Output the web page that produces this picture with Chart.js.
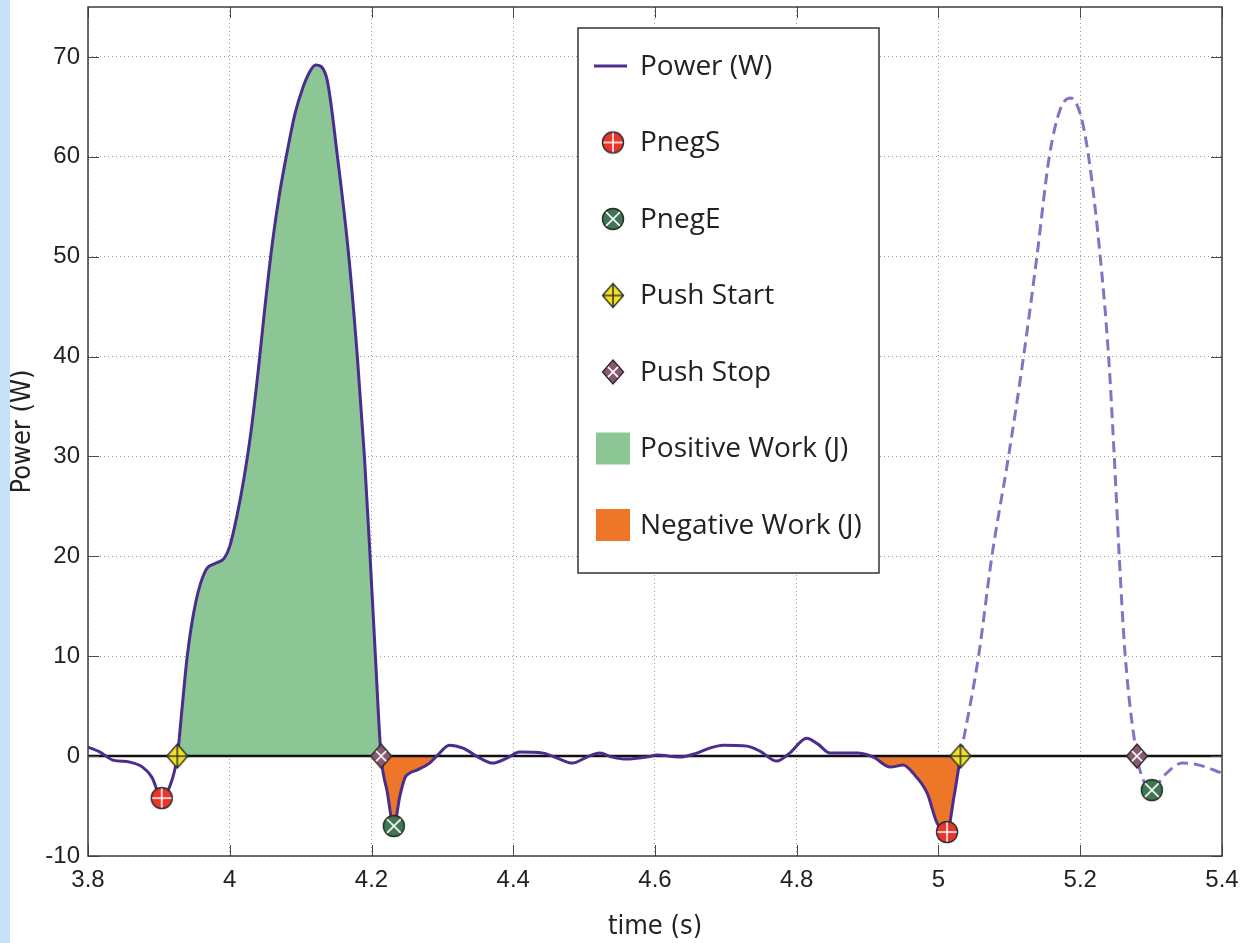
<!DOCTYPE html>
<html>
<head>
<meta charset="utf-8">
<title>Power (W)</title>
<script src="https://cdn.jsdelivr.net/npm/chart.js@4.4.0/dist/chart.umd.min.js"></script>
<style>
  html, body { margin: 0; padding: 0; background: #fff; }
  #wrap { position: relative; width: 1241px; height: 943px; }
</style>
</head>
<body>
<div id="wrap"><canvas id="powerChart" width="1241" height="943"></canvas></div>
<script>
// solid part of the power trace (up to the second push start)
const times = [3.800, 3.817, 3.835, 3.859, 3.877, 3.890, 3.904, 3.915, 3.926, 3.933,
  3.940, 3.952, 3.966, 3.980, 3.992, 4.000, 4.010, 4.020, 4.030, 4.040,
  4.050, 4.060, 4.070, 4.081, 4.092, 4.103, 4.112, 4.121, 4.136, 4.152,
  4.168, 4.180, 4.190, 4.198, 4.2055,
  4.2135, 4.222, 4.2315, 4.240, 4.247, 4.254, 4.264, 4.282, 4.292, 4.310,
  4.329, 4.353, 4.371, 4.391, 4.409, 4.442, 4.462, 4.483, 4.504, 4.522,
  4.540, 4.560, 4.588, 4.603, 4.635, 4.659, 4.677, 4.696, 4.730, 4.748,
  4.772, 4.790, 4.814, 4.830, 4.847, 4.885, 4.908, 4.932, 4.950, 4.964,
  4.984, 4.998, 5.012, 5.022, 5.031];
const power = [0.9, 0.4, -0.4, -0.6, -1.1, -2.1, -4.2, -3.1, 0, 5,
  10, 15.4, 18.6, 19.3, 19.8, 21.0, 24.0, 27.8, 32.5, 38.5,
  45.2, 51.3, 56.2, 60.5, 64.3, 66.9, 68.4, 69.2, 68.1, 60,
  50, 40, 30, 20, 10,
  0, -3.5, -7.0, -4.0, -2.2, -1.7, -1.4, -0.7, 0, 1.1,
  0.8, -0.2, -0.7, -0.2, 0.4, 0.3, -0.2, -0.7, -0.1, 0.3,
  -0.1, -0.3, -0.1, 0.1, -0.1, 0.3, 0.8, 1.1, 1.0, 0.5,
  -0.5, 0.3, 1.8, 1.2, 0.3, 0.3, -0.1, -1.1, -0.9, -1.7,
  -3.7, -6.7, -7.6, -4.0, 0];

// dashed part (next push)
const dashTimes = [5.031, 5.0565, 5.0753, 5.0988, 5.120, 5.1388, 5.1563, 5.172, 5.186, 5.200,
  5.2118, 5.2282, 5.240, 5.248, 5.255, 5.2635, 5.280, 5.289, 5.301, 5.319,
  5.344, 5.368, 5.400];
const dashPower = [0, 10, 20, 30, 40, 50, 60, 64.8, 65.9, 64.3,
  60, 50, 40, 30, 20, 10, 0, -2.4, -3.4, -1.9,
  -0.7, -0.9, -1.7];

// event markers
const pnegSTimes = [3.904, 5.012];
const pnegSValues = [-4.2, -7.6];
const pnegETimes = [4.2315, 5.301];
const pnegEValues = [-7.0, -3.4];
const pushStartTimes = [3.926, 5.031];
const pushStartValues = [0, 0];
const pushStopTimes = [4.2135, 5.280];
const pushStopValues = [0, 0];

const xTicks = [3.8, 4, 4.2, 4.4, 4.6, 4.8, 5, 5.2, 5.4];
const yTicks = [-10, 0, 10, 20, 30, 40, 50, 60, 70];

const purple = '#4a2d8f';
const lightPurple = '#8a70c4';
const green = '#8cc695';
const orange = '#ee7629';

function pts(xs, ys) {
    return xs.map((x, i) => ({ x: x, y: ys[i] }));
}

// marker images
function makeMarker(shape, fill, cross, crossColor) {
    const c = document.createElement('canvas');
    c.width = 26; c.height = 28;
    const g = c.getContext('2d');
    const cx = 13, cy = 14;
    const outline = () => {
        g.beginPath();
        if (shape === 'circle') {
            g.arc(cx, cy, 10.5, 0, Math.PI * 2);
        } else {
            g.moveTo(cx, cy - 12); g.lineTo(cx + 10.5, cy); g.lineTo(cx, cy + 12); g.lineTo(cx - 10.5, cy); g.closePath();
        }
    };
    outline();
    g.fillStyle = fill;
    g.fill();
    g.save();
    g.clip();
    g.strokeStyle = crossColor;
    g.lineWidth = 1.6;
    g.beginPath();
    if (cross === 'plus') {
        g.moveTo(cx - 12, cy); g.lineTo(cx + 12, cy);
        g.moveTo(cx, cy - 12); g.lineTo(cx, cy + 12);
    } else {
        const d = shape === 'circle' ? 7.4 : 5.6;
        g.moveTo(cx - d, cy - d); g.lineTo(cx + d, cy + d);
        g.moveTo(cx + d, cy - d); g.lineTo(cx - d, cy + d);
    }
    g.stroke();
    g.restore();
    outline();
    g.strokeStyle = '#2a2a2a';
    g.lineWidth = 1.4;
    g.stroke();
    return c;
}

const pnegSImg = makeMarker('circle', '#e8362c', 'plus', '#ffffff');
const pnegEImg = makeMarker('circle', '#3f7653', 'x', '#ffffff');
const pushStartImg = makeMarker('diamond', '#f2e11b', 'plus', '#3a3a3a');
const pushStopImg = makeMarker('diamond', '#8a586f', 'x', '#ffffff');

// fill areas built from the trace
const solid = pts(times, power);
const positiveWork = solid.filter(p => p.x >= pushStartTimes[0] && p.x <= pushStopTimes[0]);

const stopIdx = times.indexOf(pushStopTimes[0]);
let endIdx = stopIdx + 1;
while (endIdx < power.length && power[endIdx] < 0) endIdx++;
const negWork1 = solid.slice(stopIdx, endIdx + 1).map(p => ({ x: p.x, y: Math.min(p.y, 0) }));

const startIdx = times.indexOf(pushStartTimes[1]);
let begIdx = startIdx - 1;
while (begIdx > 0 && power[begIdx] <= 0) begIdx--;
const negWork2 = solid.slice(begIdx, startIdx + 1).map(p => ({ x: p.x, y: Math.min(p.y, 0) }));

const legendItems = [
    { label: 'Power (W)', kind: 'line' },
    { label: 'PnegS', kind: 'img', img: pnegSImg },
    { label: 'PnegE', kind: 'img', img: pnegEImg },
    { label: 'Push Start', kind: 'img', img: pushStartImg },
    { label: 'Push Stop', kind: 'img', img: pushStopImg },
    { label: 'Positive Work (J)', kind: 'box', color: green },
    { label: 'Negative Work (J)', kind: 'box', color: orange }
];

const framePlugin = {
    id: 'framePlugin',
    beforeDraw(chart) {
        const ctx = chart.ctx;
        ctx.save();
        ctx.fillStyle = '#ffffff';
        ctx.fillRect(0, 0, chart.width, chart.height);
        ctx.fillStyle = '#c4e3f6';
        ctx.fillRect(0, 0, 10, chart.height);
        ctx.restore();
    },
    afterDraw(chart) {
        const ctx = chart.ctx;
        const a = chart.chartArea;
        const xs = chart.scales.x, ys = chart.scales.y;
        ctx.save();
        // inside ticks
        ctx.strokeStyle = '#4a4a4a';
        ctx.lineWidth = 1;
        ctx.beginPath();
        xTicks.forEach(v => {
            const px = Math.round(xs.getPixelForValue(v)) + 0.5;
            ctx.moveTo(px, a.bottom); ctx.lineTo(px, a.bottom - 11);
            ctx.moveTo(px, a.top); ctx.lineTo(px, a.top + 11);
        });
        yTicks.forEach(v => {
            const py = Math.round(ys.getPixelForValue(v)) + 0.5;
            ctx.moveTo(a.left, py); ctx.lineTo(a.left + 11, py);
            ctx.moveTo(a.right, py); ctx.lineTo(a.right - 11, py);
        });
        ctx.stroke();
        // box
        ctx.strokeStyle = '#3c3c3c';
        ctx.lineWidth = 1.5;
        ctx.strokeRect(a.left, a.top, a.right - a.left, a.bottom - a.top);

        // legend
        const lx = 578, ly = 28, lw = 301, lh = 545;
        ctx.fillStyle = '#ffffff';
        ctx.fillRect(lx, ly, lw, lh);
        ctx.strokeStyle = '#333333';
        ctx.lineWidth = 1.5;
        ctx.strokeRect(lx, ly, lw, lh);
        ctx.font = '28px "Open Sans", "Noto Sans", sans-serif';
        ctx.textBaseline = 'middle';
        ctx.textAlign = 'left';
        legendItems.forEach((it, i) => {
            const cy = 66 + i * 76.5;
            const cx = 613;
            if (it.kind === 'line') {
                ctx.strokeStyle = purple;
                ctx.lineWidth = 3;
                ctx.beginPath();
                ctx.moveTo(594, cy); ctx.lineTo(627, cy);
                ctx.stroke();
            } else if (it.kind === 'img') {
                ctx.drawImage(it.img, cx - it.img.width / 2, cy - it.img.height / 2);
            } else {
                ctx.fillStyle = it.color;
                ctx.fillRect(596, cy - 16, 34, 32);
            }
            ctx.fillStyle = '#222222';
            ctx.fillText(it.label, 640, cy + 1);
        });
        ctx.restore();
    }
};

const ctx = document.getElementById('powerChart').getContext('2d');
new Chart(ctx, {
    type: 'line',
    data: {
        datasets: [
            { label: 'PnegS', data: pts(pnegSTimes, pnegSValues), showLine: false, pointStyle: pnegSImg, order: 0 },
            { label: 'PnegE', data: pts(pnegETimes, pnegEValues), showLine: false, pointStyle: pnegEImg, order: 0 },
            { label: 'Push Start', data: pts(pushStartTimes, pushStartValues), showLine: false, pointStyle: pushStartImg, order: 0 },
            { label: 'Push Stop', data: pts(pushStopTimes, pushStopValues), showLine: false, pointStyle: pushStopImg, order: 0 },
            {
                label: 'Power (W)', data: solid, borderColor: purple, borderWidth: 3,
                pointRadius: 0, cubicInterpolationMode: 'monotone', fill: false, order: 1
            },
            {
                label: 'Power next', data: pts(dashTimes, dashPower), borderColor: lightPurple, borderWidth: 3,
                borderDash: [11, 6], pointRadius: 0, cubicInterpolationMode: 'monotone', fill: false, order: 1
            },
            {
                label: 'zero', data: [{ x: 3.8, y: 0 }, { x: 5.4, y: 0 }], borderColor: '#111111',
                borderWidth: 2.5, pointRadius: 0, fill: false, order: 2
            },
            {
                label: 'Positive Work (J)', data: positiveWork, borderWidth: 0, borderColor: 'rgba(0,0,0,0)',
                backgroundColor: green, pointRadius: 0, cubicInterpolationMode: 'monotone', fill: 'origin', order: 3
            },
            {
                label: 'Negative Work (J)', data: negWork1, borderWidth: 0, borderColor: 'rgba(0,0,0,0)',
                backgroundColor: orange, pointRadius: 0, cubicInterpolationMode: 'monotone', fill: 'origin', order: 3
            },
            {
                label: 'Negative Work 2', data: negWork2, borderWidth: 0, borderColor: 'rgba(0,0,0,0)',
                backgroundColor: orange, pointRadius: 0, cubicInterpolationMode: 'monotone', fill: 'origin', order: 3
            }
        ]
    },
    options: {
        responsive: false,
        animation: false,
        devicePixelRatio: 1,
        layout: { padding: { top: 7, right: 19, left: 0, bottom: 0 } },
        plugins: {
            legend: { display: false },
            tooltip: { enabled: false }
        },
        scales: {
            x: {
                type: 'linear',
                min: 3.8,
                max: 5.4,
                afterBuildTicks: scale => { scale.ticks = xTicks.map(v => ({ value: v })); },
                afterFit: scale => {
                    scale.height = 87;
                    scale.paddingLeft = 0; scale.paddingRight = 0;
                },
                grid: { color: '#9a9a9a', lineWidth: 1, drawTicks: false },
                border: { display: false, dash: [1, 3] },
                ticks: {
                    padding: 10,
                    color: '#222',
                    font: { family: '"Liberation Sans", Arial, sans-serif', size: 24 },
                    maxRotation: 0,
                    callback: v => String(v)
                },
                title: {
                    display: true,
                    text: 'time (s)',
                    color: '#222',
                    padding: { top: 0, bottom: 0 },
                    font: { family: '"Liberation Sans Narrow", "DejaVu Sans Condensed", "Liberation Sans", sans-serif', size: 27 }
                }
            },
            y: {
                min: -10,
                max: 75,
                afterBuildTicks: scale => { scale.ticks = yTicks.map(v => ({ value: v })); },
                afterFit: scale => {
                    scale.width = 88;
                    scale.paddingTop = 0; scale.paddingBottom = 0;
                },
                grid: { color: '#9a9a9a', lineWidth: 1, drawTicks: false },
                border: { display: false, dash: [1, 3] },
                ticks: {
                    padding: 8,
                    color: '#222',
                    font: { family: '"Liberation Sans", Arial, sans-serif', size: 24 }
                },
                title: {
                    display: true,
                    text: 'Power (W)',
                    color: '#222',
                    padding: { top: 7, bottom: 0 },
                    font: { family: '"Liberation Sans Narrow", "DejaVu Sans Condensed", "Liberation Sans", sans-serif', size: 27 }
                }
            }
        }
    },
    plugins: [framePlugin]
});
</script>
</body>
</html>
